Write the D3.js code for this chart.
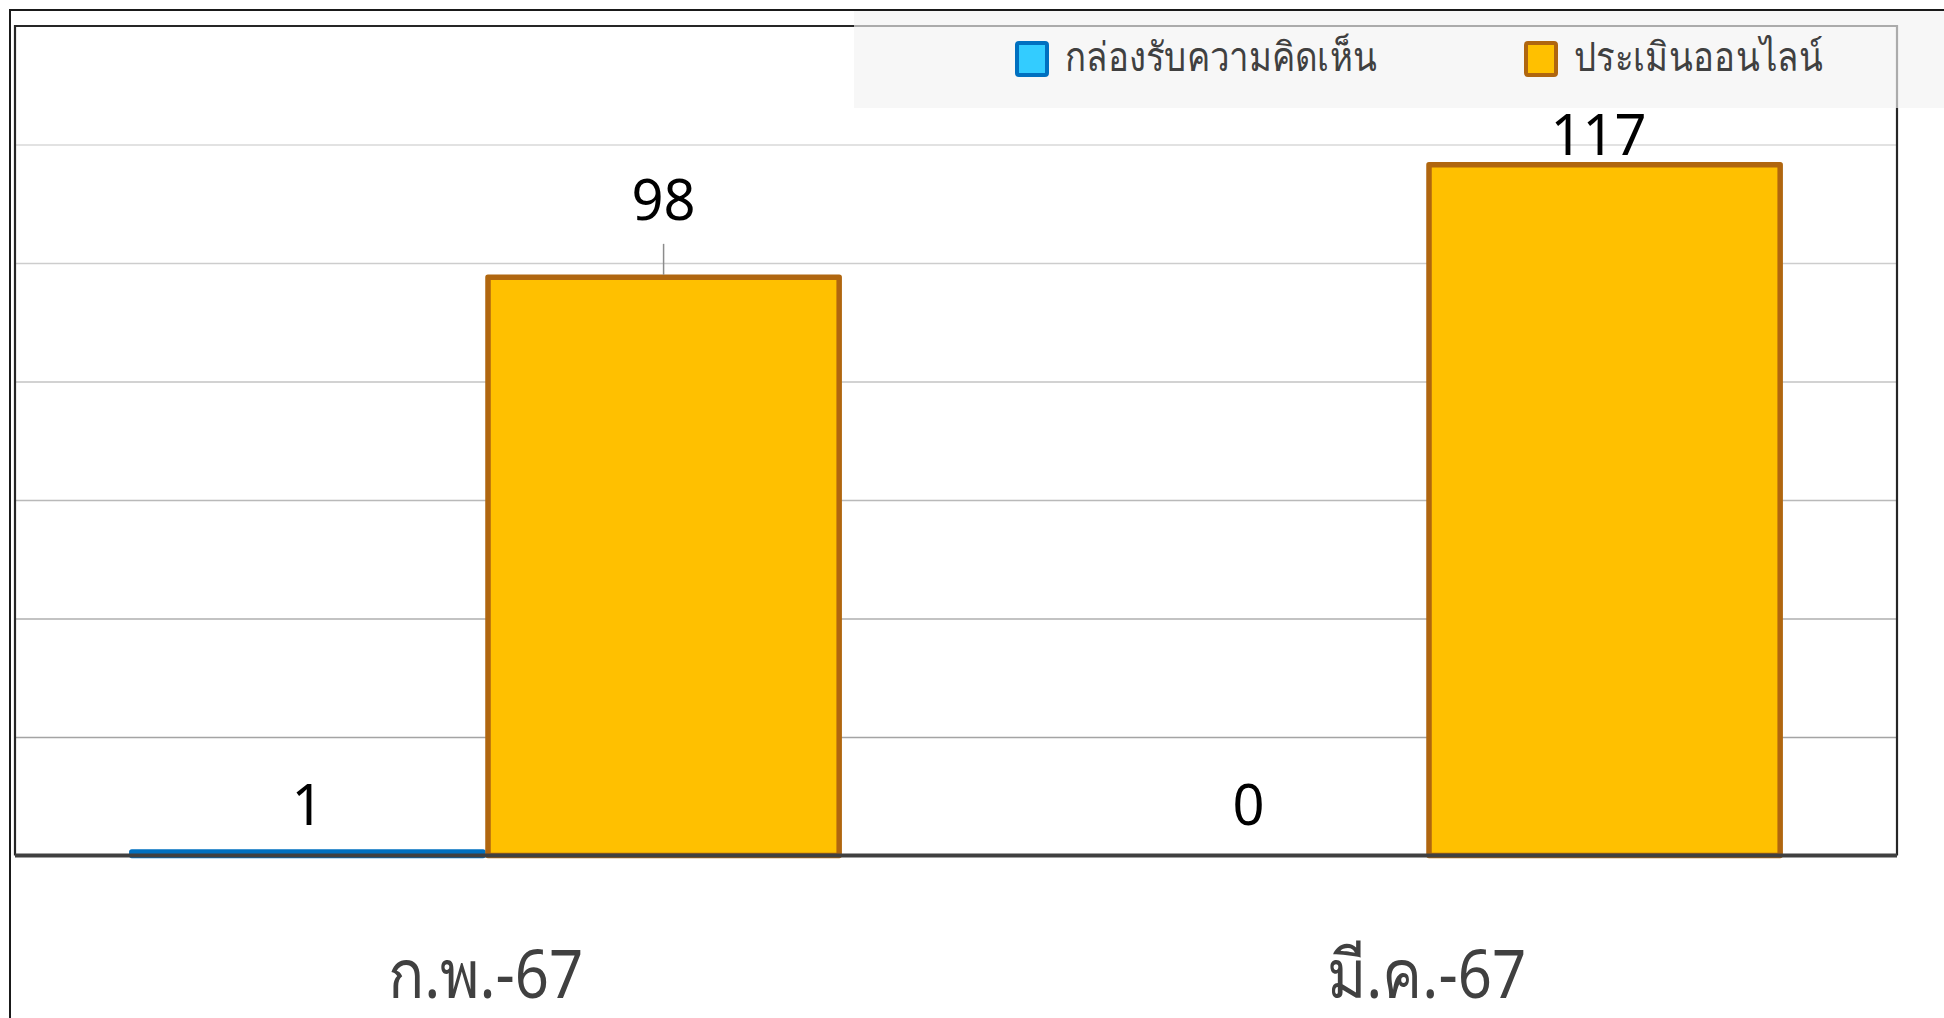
<!DOCTYPE html>
<html>
<head>
<meta charset="utf-8">
<script src="https://cdn.jsdelivr.net/npm/d3@7"></script>
<style>
  html, body { margin: 0; padding: 0; background: #ffffff; overflow: hidden; }
  svg { display: block; }
</style>
</head>
<body>
<svg id="chart" width="1944" height="1018"></svg>
<script>
// ---- data ----
const categories = ["ก.พ.-67", "มี.ค.-67"];
const seriesNames = ["กล่องรับความคิดเห็น", "ประเมินออนไลน์"];
const commentBox = [1, 0];
const onlineEval = [98, 117];
const yTicks = [0, 20, 40, 60, 80, 100, 120, 140];

const seriesValues = [commentBox, onlineEval];
const seriesFill = ["#33ccff", "#ffc000"];
const seriesStroke = ["#0070c0", "#b0660f"];

const W = 1944, H = 1018;
const plot = { left: 15, right: 1897, top: 26, bottom: 855.5 };

const svg = d3.select("#chart");
svg.append("rect").attr("width", W).attr("height", H).attr("fill", "#ffffff");

// outer frame
svg.append("rect")
  .attr("x", 10).attr("y", 10).attr("width", W + 20).attr("height", H + 20)
  .attr("fill", "none").attr("stroke", "#1a1a1a").attr("stroke-width", 2);

const y = d3.scaleLinear().domain([0, 140]).range([plot.bottom, plot.top]);
const x0 = d3.scaleBand().domain(categories).range([plot.left, plot.right])
  .paddingInner(0.243).paddingOuter(0.1215);
const x1 = d3.scaleBand().domain(seriesNames).range([0, x0.bandwidth()]).padding(0);

// gridlines
const gridColor = d3.scaleLinear().domain([140, 0]).range(["#e2e2e2", "#9a9a9a"]);
const grid = svg.append("g").attr("transform", `translate(${plot.left},0)`)
  .call(d3.axisLeft(y).tickValues(yTicks.slice(1, -1)).tickSize(-(plot.right - plot.left)).tickFormat(""));
grid.select(".domain").remove();
grid.selectAll(".tick line")
  .attr("stroke", d => gridColor(d))
  .attr("stroke-width", 1.6);

// bars
const groups = svg.append("g").selectAll("g")
  .data(categories).join("g")
  .attr("transform", d => `translate(${x0(d)},0)`);

const barData = (c, ci) => seriesNames.map((s, si) => ({ s, si, v: seriesValues[si][ci] }));

groups.each(function (c, ci) {
  const g = d3.select(this);
  barData(c, ci).forEach(b => {
    if (b.v <= 0) return;
    g.append("rect")
      .attr("x", x1(b.s) + 2.5)
      .attr("y", y(b.v) + 2.5)
      .attr("width", x1.bandwidth() - 5)
      .attr("height", y(0) - y(b.v) - 2.5)
      .attr("fill", seriesFill[b.si])
      .attr("stroke", seriesStroke[b.si])
      .attr("stroke-width", 5.5)
      .attr("stroke-linejoin", "round");
  });
});

// plot frame (left, top, right)
svg.append("path")
  .attr("d", `M${plot.left},${plot.bottom} V${plot.top} H${plot.right} V${plot.bottom}`)
  .attr("fill", "none").attr("stroke", "#262626").attr("stroke-width", 2.2);

// x axis baseline
const xAxis = svg.append("g").attr("transform", `translate(0,${y(0)})`)
  .call(d3.axisBottom(x0).tickSize(0).tickPadding(0));
xAxis.select(".domain").attr("stroke", "#404040").attr("stroke-width", 4)
  .attr("d", `M${plot.left},0H${plot.right}`);
xAxis.selectAll(".tick text")
  .attr("y", 0)
  .attr("dy", 0)
  .attr("transform", "translate(0,142) scale(0.88,1)")
  .attr("fill", "#404040")
  .style("font-family", "'Noto Sans', sans-serif")
  .style("font-size", "68px");

// value labels
const labelFont = "'Noto Sans', sans-serif";
const labels = svg.append("g");
categories.forEach((c, ci) => {
  seriesNames.forEach((s, si) => {
    const v = seriesValues[si][ci];
    const cx = x0(c) + x1(s) + x1.bandwidth() / 2;
    let ty, leader = false;
    if (si === 0) {
      ty = y(0) - 31;
    } else if (v === d3.min(onlineEval)) {
      ty = y(v) - 55;
      leader = true;
    } else {
      ty = y(v) - 7;
    }
    if (leader) {
      labels.append("line")
        .attr("x1", cx).attr("x2", cx)
        .attr("y1", ty + 24).attr("y2", y(v))
        .attr("stroke", "#8c8c8c").attr("stroke-width", 1.5);
    }
    labels.append("text")
      .attr("x", si === 1 && !leader ? cx - 6 : cx)
      .attr("y", ty)
      .attr("text-anchor", "middle")
      .attr("fill", "#000000")
      .style("font-family", labelFont)
      .style("font-size", "56px")
      .text(v);
  });
});

// legend
const legend = svg.append("g");
legend.append("rect")
  .attr("x", 854).attr("y", 11).attr("width", W - 854).attr("height", 97)
  .attr("fill", "#f2f2f2").attr("fill-opacity", 0.65);
const legendX = [1017, 1526];
seriesNames.forEach((s, i) => {
  legend.append("rect")
    .attr("x", legendX[i]).attr("y", 43).attr("width", 30).attr("height", 32)
    .attr("fill", seriesFill[i]).attr("stroke", seriesStroke[i]).attr("stroke-width", 4)
    .attr("rx", 2);
  legend.append("text")
    .attr("transform", `translate(${legendX[i] + 48},71) scale(0.87,1)`)
    .attr("fill", "#404040")
    .style("font-family", "'Noto Sans', sans-serif")
    .style("font-size", "40px")
    .text(s);
});
</script>
</body>
</html>
